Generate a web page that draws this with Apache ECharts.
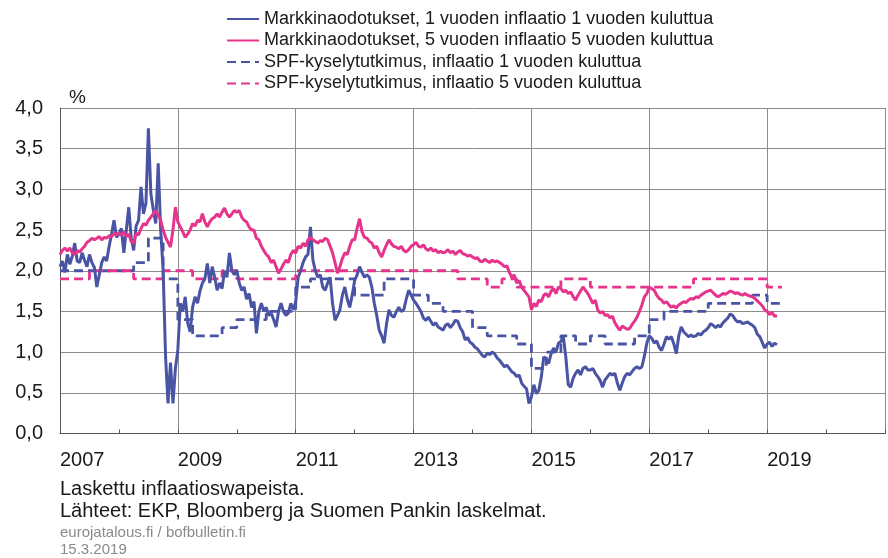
<!DOCTYPE html>
<html>
<head>
<meta charset="utf-8">
<script src="https://cdn.jsdelivr.net/npm/echarts@6/dist/echarts.min.js"></script>
<style>
  html, body { margin: 0; padding: 0; background: #fff; }
  #chart { width: 888px; height: 558px; }
</style>
</head>
<body>
<div id="chart"></div>
<script>
// ── DATA ───────────────────────────────────────────
// market series: one value every half month from Jan 2007
const startYear = 2007;
const stepsPerYear = 24;

const mkt1y = [
  2.05, 2.12, 1.98, 2.2, 2.08, 2.18, 2.34, 2.12, 2.1, 2.22, 2.13, 2.05,
  2.2, 2.1, 2.04, 1.8, 1.95, 2.1, 2.17, 2.12, 2.3, 2.45, 2.62, 2.41,
  2.45, 2.52, 2.22, 2.5, 2.78, 2.4, 2.25, 2.55, 2.62, 3.03, 2.7, 2.83,
  3.75, 2.95, 2.75, 2.58, 3.32, 2.5, 2.01, 0.94, 0.37, 0.87, 0.37, 0.8,
  1.03, 1.6, 1.5, 1.68, 1.36, 1.25, 1.55, 1.68, 1.6, 1.75, 1.85, 1.9,
  2.09, 1.85, 2.05, 1.92, 1.76, 1.85, 1.78, 2.0, 1.92, 2.22, 2.0, 1.95,
  2.01, 1.85, 1.76, 1.8, 1.65, 1.72, 1.55, 1.62, 1.23, 1.5, 1.6, 1.5,
  1.55, 1.45, 1.48, 1.4, 1.31, 1.5, 1.6, 1.5, 1.45, 1.48, 1.6, 1.52,
  1.62, 1.92, 2.0, 2.1, 2.17, 2.2, 2.54, 2.13, 2.0, 1.92, 1.95, 1.8,
  1.76, 1.85, 1.92, 1.6, 1.39, 1.45, 1.52, 1.7, 1.8, 1.65, 1.55, 1.7,
  1.88, 1.95, 2.05, 1.98, 1.92, 1.95, 1.92, 1.8, 1.6, 1.45, 1.27, 1.2,
  1.11, 1.35, 1.52, 1.45, 1.43, 1.5, 1.55, 1.5, 1.52, 1.65, 1.76, 1.7,
  1.64, 1.6, 1.55, 1.5, 1.42, 1.39, 1.43, 1.38, 1.33, 1.36, 1.31, 1.29,
  1.27, 1.33, 1.35, 1.3, 1.34, 1.39, 1.38, 1.3, 1.25, 1.15, 1.18, 1.12,
  1.1, 1.06, 1.04, 1.0, 0.96, 0.94, 0.99, 0.97, 1.0, 0.98, 0.93, 0.9,
  0.86, 0.82, 0.84, 0.8, 0.76, 0.74, 0.7, 0.72, 0.62, 0.58, 0.55, 0.37,
  0.45, 0.6, 0.49, 0.53, 0.69, 0.94, 0.92, 0.86, 0.98, 1.05, 1.0, 1.11,
  1.13, 1.19, 0.94, 0.6, 0.57, 0.68, 0.74, 0.78, 0.72, 0.8, 0.82, 0.78,
  0.78, 0.8, 0.74, 0.7, 0.65, 0.57, 0.66, 0.7, 0.74, 0.72, 0.74, 0.62,
  0.53, 0.62, 0.7, 0.74, 0.72, 0.76, 0.8, 0.82, 0.8, 0.82, 0.95, 1.11,
  1.2, 1.17, 1.11, 1.14, 1.06, 1.02, 1.1, 1.19, 1.16, 1.19, 1.1, 0.98,
  1.2, 1.31, 1.25, 1.22, 1.19, 1.21, 1.19, 1.2, 1.23, 1.21, 1.25, 1.27,
  1.3, 1.35, 1.33, 1.3, 1.33, 1.31, 1.36, 1.39, 1.42, 1.47, 1.45, 1.4,
  1.37, 1.38, 1.35, 1.36, 1.37, 1.35, 1.33, 1.3, 1.22, 1.19, 1.12, 1.05,
  1.1, 1.12, 1.07, 1.11, 1.09
];

const mkt5y5y = [
  2.2, 2.25, 2.28, 2.24, 2.28, 2.22, 2.2, 2.25, 2.23, 2.27, 2.3, 2.35,
  2.37, 2.4, 2.38, 2.4, 2.42, 2.38, 2.41, 2.4, 2.43, 2.42, 2.46, 2.44,
  2.46, 2.44, 2.48, 2.42, 2.45, 2.36, 2.34, 2.46, 2.44, 2.52, 2.58, 2.56,
  2.62, 2.66, 2.7, 2.74, 2.68, 2.62, 2.5, 2.41, 2.35, 2.29, 2.5, 2.78,
  2.6, 2.54, 2.48, 2.41, 2.45, 2.5, 2.58, 2.55, 2.62, 2.6, 2.7, 2.6,
  2.54, 2.6, 2.64, 2.66, 2.7, 2.66, 2.72, 2.77, 2.7, 2.66, 2.7, 2.74,
  2.72, 2.74, 2.66, 2.62, 2.6, 2.54, 2.5, 2.5, 2.4, 2.38, 2.3, 2.25,
  2.2, 2.17, 2.1, 2.13, 2.05, 1.97, 2.02, 2.08, 2.13, 2.1, 2.2, 2.25,
  2.22, 2.3, 2.28, 2.34, 2.3, 2.38, 2.41, 2.38, 2.36, 2.34, 2.37, 2.36,
  2.4, 2.38, 2.3, 2.22, 2.1, 1.97, 2.05, 2.15, 2.22, 2.2, 2.3, 2.38,
  2.38, 2.52, 2.64, 2.48, 2.41, 2.4, 2.36, 2.34, 2.28, 2.3, 2.22, 2.17,
  2.25, 2.32, 2.38, 2.33, 2.3, 2.29, 2.27, 2.3, 2.25, 2.23, 2.26, 2.3,
  2.32, 2.35, 2.3, 2.29, 2.32, 2.27, 2.25, 2.28, 2.24, 2.26, 2.22, 2.24,
  2.22, 2.23, 2.26, 2.22, 2.24, 2.2, 2.23, 2.25, 2.21, 2.2, 2.18, 2.19,
  2.17, 2.15, 2.16, 2.12, 2.11, 2.14, 2.12, 2.1, 2.13, 2.11, 2.12, 2.1,
  2.08, 2.05, 2.06, 1.98, 1.92, 1.95, 1.85, 1.88, 1.8, 1.76, 1.72, 1.68,
  1.52, 1.6, 1.56, 1.64, 1.62, 1.7, 1.72, 1.68, 1.75, 1.78, 1.72, 1.8,
  1.78, 1.74, 1.76, 1.72, 1.74, 1.68, 1.64, 1.7, 1.75, 1.8, 1.76, 1.72,
  1.66, 1.6, 1.64, 1.52, 1.48, 1.5, 1.45, 1.46, 1.42, 1.44, 1.36, 1.31,
  1.27, 1.32, 1.3, 1.28, 1.29, 1.34, 1.38, 1.43, 1.5, 1.58, 1.68, 1.72,
  1.8, 1.78, 1.76, 1.7, 1.66, 1.64, 1.6, 1.62, 1.58, 1.55, 1.57, 1.54,
  1.58, 1.6, 1.62, 1.61, 1.64, 1.66, 1.65, 1.68, 1.67, 1.7, 1.72, 1.74,
  1.75, 1.76, 1.73, 1.7, 1.68, 1.7, 1.72, 1.71, 1.73, 1.75, 1.74, 1.72,
  1.73, 1.71, 1.7, 1.72, 1.7, 1.69, 1.68, 1.66, 1.63, 1.6, 1.57, 1.52,
  1.5, 1.46, 1.49, 1.44, 1.45
];

// SPF survey rounds (value holds until next round)
const spf1yDates = [2007.0, 2008.25, 2008.5, 2008.75, 2009.0, 2009.25, 2009.75, 2010.0, 2010.5,
  2011.0, 2011.25, 2012.0, 2012.5, 2013.0, 2013.25, 2013.5, 2014.0, 2014.25, 2014.75,
  2015.0, 2015.25, 2015.5, 2015.75, 2016.0, 2016.25, 2016.75, 2017.0, 2017.25, 2018.0,
  2018.75, 2019.0, 2019.25];
const spf1yValues = [2.0, 2.1, 2.4, 1.9, 1.4, 1.2, 1.3, 1.4, 1.5,
  1.8, 1.9, 1.7, 1.9, 1.7, 1.6, 1.5, 1.3, 1.2, 1.1,
  0.8, 1.0, 1.2, 1.1, 1.2, 1.1, 1.2, 1.4, 1.5, 1.6,
  1.7, 1.6, 1.6];

const spf5yDates = [2007.0, 2007.5, 2008.25, 2008.75, 2009.25, 2009.75, 2010.0, 2011.0,
  2013.75, 2014.25, 2014.5, 2014.75, 2015.5, 2016.0, 2017.75, 2019.0, 2019.25];
const spf5yValues = [1.9, 2.0, 1.9, 2.0, 1.9, 2.0, 1.9, 2.0,
  1.9, 1.8, 1.9, 1.8, 1.9, 1.8, 1.9, 1.8, 1.8];

const yearLabels = [2007, 2009, 2011, 2013, 2015, 2017, 2019];

const names = [
  'Markkinaodotukset, 1 vuoden inflaatio 1 vuoden kuluttua',
  'Markkinaodotukset, 5 vuoden inflaatio 5 vuoden kuluttua',
  'SPF-kyselytutkimus, inflaatio 1 vuoden kuluttua',
  'SPF-kyselytutkimus, inflaatio 5 vuoden kuluttua'
];

const BLUE = '#4a54a4';
const PINK = '#e6338b';
const GRID = '#8c8c8c';
const FONT = '"Liberation Sans", Arial, sans-serif';

// ── CHART ──────────────────────────────────────────
const daily = arr => arr.map((v, i) => [startYear + i / stepsPerYear, v]);
const steps = (dates, vals) => dates.map((d, i) => [d, vals[i]]);

const chart = echarts.init(document.getElementById('chart'), null, { renderer: 'canvas' });

chart.setOption({
  animation: false,
  backgroundColor: '#fff',
  textStyle: { fontFamily: FONT },
  grid: { left: 60, right: -8, top: 108, bottom: 124.5 },
  legend: {
    orient: 'vertical',
    left: 226,
    top: 10,
    padding: 0,
    itemWidth: 32,
    itemHeight: 14,
    itemGap: 3.5,
    selectedMode: false,
    itemStyle: { opacity: 0, borderWidth: 0 },
    data: names,
    textStyle: { fontFamily: FONT, fontSize: 18, color: '#1a1a1a', lineHeight: 18 }
  },
  xAxis: {
    type: 'value',
    min: 2007,
    max: 2021,
    interval: 2,
    axisLine: { show: true, lineStyle: { color: '#555', width: 1 } },
    axisTick: { show: true, inside: true, length: 4, lineStyle: { color: '#555' } },
    minorTick: { show: true, splitNumber: 2, length: 4, lineStyle: { color: '#555' } },
    splitLine: { show: true, lineStyle: { color: GRID, width: 1 } },
    axisLabel: {
      fontFamily: FONT, fontSize: 20, color: '#1a1a1a', margin: 17, align: 'left',
      formatter: v => yearLabels.includes(v) ? String(v) : ''
    }
  },
  yAxis: {
    type: 'value',
    min: 0,
    max: 4,
    interval: 0.5,
    axisLine: { show: true, lineStyle: { color: '#555', width: 1 } },
    axisTick: { show: false },
    splitLine: { show: true, lineStyle: { color: GRID, width: 1 } },
    axisLabel: {
      fontFamily: FONT, fontSize: 20, color: '#1a1a1a', margin: 17,
      formatter: v => v.toFixed(1).replace('.', ',')
    }
  },
  graphic: [
    { type: 'text', left: 69, top: 88, style: { text: '%', font: '19px ' + FONT, fill: '#1a1a1a' } },
    { type: 'text', left: 60, top: 479, style: { text: 'Laskettu inflaatioswapeista.', font: '20px ' + FONT, fill: '#1a1a1a' } },
    { type: 'text', left: 60, top: 501, style: { text: 'Lähteet: EKP, Bloomberg ja Suomen Pankin laskelmat.', font: '20px ' + FONT, fill: '#1a1a1a' } },
    { type: 'text', left: 60, top: 525, style: { text: 'eurojatalous.fi / bofbulletin.fi', font: '15px ' + FONT, fill: '#8a8a8a' } },
    { type: 'text', left: 60, top: 542, style: { text: '15.3.2019', font: '15px ' + FONT, fill: '#8a8a8a' } }
  ],
  series: [
    {
      name: names[0], type: 'line', data: daily(mkt1y), symbol: 'none', z: 3,
      lineStyle: { color: BLUE, width: 3 }, itemStyle: { color: BLUE }
    },
    {
      name: names[1], type: 'line', data: daily(mkt5y5y), symbol: 'none', z: 4,
      lineStyle: { color: PINK, width: 3 }, itemStyle: { color: PINK }
    },
    {
      name: names[2], type: 'line', step: 'end', data: steps(spf1yDates, spf1yValues), symbol: 'none', z: 2,
      lineStyle: { color: BLUE, width: 2.8, type: [9, 5] }, itemStyle: { color: BLUE }
    },
    {
      name: names[3], type: 'line', step: 'end', data: steps(spf5yDates, spf5yValues), symbol: 'none', z: 2,
      lineStyle: { color: PINK, width: 2.8, type: [9, 5] }, itemStyle: { color: PINK }
    }
  ]
});
</script>
</body>
</html>
